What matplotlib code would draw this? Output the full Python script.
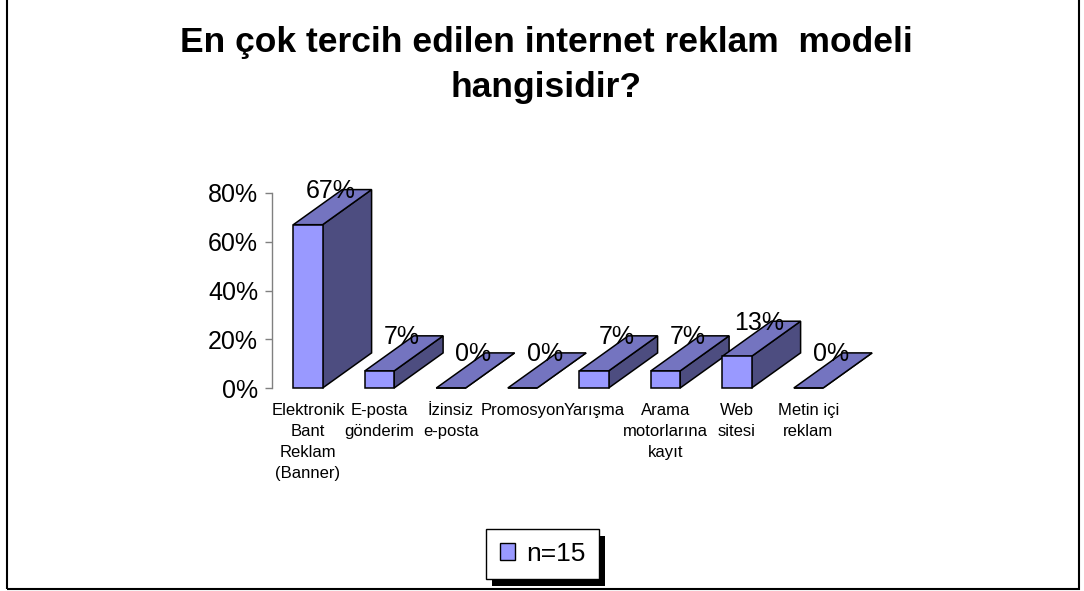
import matplotlib
matplotlib.use("Agg")
import matplotlib.pyplot as plt
from matplotlib.patches import Polygon, Rectangle, Patch

plt.rcParams['font.family'] = ['Liberation Sans', 'DejaVu Sans']

# Reklam modelleri ve oranları (%)
kategoriler = ["Elektronik\nBant\nReklam\n(Banner)", "E-posta\ngönderim", "İzinsiz\ne-posta",
               "Promosyon", "Yarışma", "Arama\nmotorlarına\nkayıt", "Web\nsitesi", "Metin içi\nreklam"]
oranlar = [67, 7, 0, 0, 7, 7, 13, 0]
y_etiketleri = ["0%", "20%", "40%", "60%", "80%"]
y_degerleri = [0, 20, 40, 60, 80]
seri_adi = "n=15"

on_renk = "#9999FF"
ust_renk = "#7474C0"
yan_renk = "#4D4D80"

fig = plt.figure(figsize=(10.84, 5.91), dpi=100)
ax = fig.add_axes([272 / 1084, 203 / 591, 643.5 / 1084, 195 / 591])
ax.set_xlim(-0.503, 8.497)
ax.set_ylim(0, 80)

# 3B sütun görünümü için derinlik kayması
w = 0.41
dx, dy = 0.685, 14.4

for i, v in enumerate(oranlar):
    z = 3 + i
    x0, x1 = i - w / 2, i + w / 2
    yan = [(x1, 0), (x1 + dx, dy), (x1 + dx, v + dy), (x1, v)]
    ust = [(x0, v), (x1, v), (x1 + dx, v + dy), (x0 + dx, v + dy)]
    ax.add_patch(Polygon(yan, closed=True, facecolor=yan_renk, edgecolor="black",
                         linewidth=1.1, zorder=z, clip_on=False))
    ax.add_patch(Polygon(ust, closed=True, facecolor=ust_renk, edgecolor="black",
                         linewidth=1.1, zorder=z, clip_on=False))
    ax.add_patch(Rectangle((x0, 0), w, v, facecolor=on_renk, edgecolor="black",
                           linewidth=1.1, zorder=z, clip_on=False))
    ax.annotate(f"{v}%", xy=(i + dx / 2, v + dy / 2), xytext=(-1.5, 11.5),
                textcoords="offset points", ha="center", va="center",
                fontsize=18, zorder=20, annotation_clip=False)

for s in ["top", "right", "bottom"]:
    ax.spines[s].set_visible(False)
ax.spines["left"].set_color("#808080")
ax.spines["left"].set_linewidth(1.0)

ax.set_yticks(y_degerleri)
ax.set_yticklabels(y_etiketleri)
ax.tick_params(axis="y", direction="out", length=5, width=1, color="#808080",
               labelsize=18, pad=5)
ax.set_xticks(range(len(kategoriler)))
ax.set_xticklabels(kategoriler, fontsize=12, linespacing=1.5, va="top")
ax.tick_params(axis="x", length=0, pad=11)

fig.text(0.504, 1 - 26 / 591, "En çok tercih edilen internet reklam  modeli\nhangisidir?",
         ha="center", va="top", fontsize=25.5, fontweight="bold", linespacing=1.45)

# Açıklama kutusu ve gölgesi
leg = fig.legend(handles=[Patch(facecolor=on_renk, edgecolor="black", linewidth=1)],
                 labels=[seri_adi], loc="center", bbox_to_anchor=(542.5 / 1084, 37 / 591),
                 fontsize=19, frameon=True, fancybox=False, framealpha=1,
                 edgecolor="black", handlelength=0.6, handleheight=0.6,
                 handletextpad=0.4, borderpad=0.5, borderaxespad=0)
leg.get_frame().set_linewidth(1.0)
leg.set_zorder(10)
fig.canvas.draw()
bb = leg.get_window_extent().transformed(fig.transFigure.inverted())
fig.add_artist(Rectangle((bb.x0 + 6 / 1084, bb.y0 - 7 / 591), bb.width, bb.height,
                         transform=fig.transFigure, facecolor="black",
                         edgecolor="none", zorder=9))

# Grafik alanı çerçevesi
fig.add_artist(Rectangle((7 / 1084, 2 / 591), 1072 / 1084, 1.1, transform=fig.transFigure,
                         fill=False, edgecolor="black", linewidth=1.5, zorder=1))

fig.savefig("out.png", dpi=100)
